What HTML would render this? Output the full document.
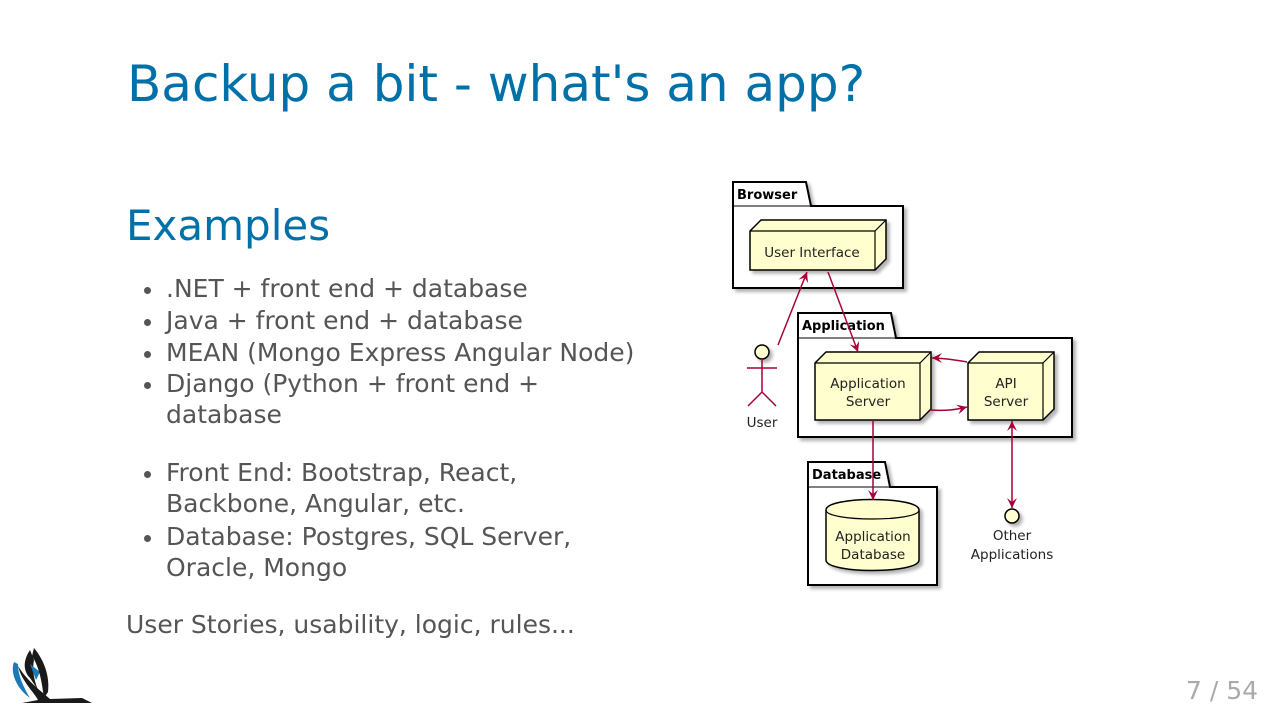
<!DOCTYPE html>
<html><head><meta charset="utf-8"><style>
html,body{margin:0;padding:0;background:#fff;}
body{width:1280px;height:720px;position:relative;overflow:hidden;font-family:"DejaVu Sans","Liberation Sans",sans-serif;}
.t{position:absolute;white-space:nowrap;line-height:1;}
.h1{color:#0071a8;font-size:50px;left:127px;top:59px;}
.h2{color:#0071a8;font-size:42px;left:126px;top:205px;}
.b{color:#555;font-size:25px;left:166px;}
.b:before{content:"";position:absolute;left:-22px;top:11px;width:7px;height:7px;border-radius:50%;background:#555;}
.p{color:#555;font-size:25px;}
</style></head><body>
<div class="t h1">Backup a bit - what's an app?</div>
<div class="t h2">Examples</div>
<div class="t b" style="top:276px">.NET + front end + database</div>
<div class="t b" style="top:308px">Java + front end + database</div>
<div class="t b" style="top:340px">MEAN (Mongo Express Angular Node)</div>
<div class="t b" style="top:371px">Django (Python + front end +</div>
<div class="t p" style="left:166px;top:402px">database</div>
<div class="t b" style="top:460px">Front End: Bootstrap, React,</div>
<div class="t p" style="left:166px;top:491px">Backbone, Angular, etc.</div>
<div class="t b" style="top:524px">Database: Postgres, SQL Server,</div>
<div class="t p" style="left:166px;top:555px">Oracle, Mongo</div>
<div class="t p" style="left:126px;top:612px">User Stories, usability, logic, rules...</div>
<div class="t p" style="left:1186px;top:678px;color:#aaa;">7 / 54</div>

<svg width="1280" height="720" style="position:absolute;left:0;top:0" font-family="DejaVu Sans, sans-serif">
<defs>
<filter id="sh" x="-10%" y="-10%" width="130%" height="130%"><feDropShadow dx="3" dy="3" stdDeviation="1.5" flood-color="#000" flood-opacity="0.3"/></filter>
<marker id="ar" markerWidth="12" markerHeight="10" refX="10" refY="5" orient="auto" markerUnits="userSpaceOnUse"><path d="M0,0 L10,5 L0,10 L4,5 Z" fill="#a80036"/></marker>
<marker id="ars" markerWidth="12" markerHeight="10" refX="0" refY="5" orient="auto" markerUnits="userSpaceOnUse"><path d="M10,0 L0,5 L10,10 L6,5 Z" fill="#a80036"/></marker>
</defs>
<g stroke="#000" stroke-width="2" fill="#fff" filter="url(#sh)">
<path d="M733,206 V182 H806 L811,206 H903 V288 H733 Z"/>
<path d="M798,338 V313 H891 L896,338 H1072 V437 H798 Z"/>
<path d="M808,487 V462 H885 L890,487 H937 V585 H808 Z"/>
</g>
<g stroke="#000" stroke-width="1" fill="none"><path d="M733,206 H811 M798,338 H896 M808,487 H890"/></g>
<g font-weight="bold" font-size="13" fill="#000">
<text x="737" y="199">Browser</text><text x="802" y="330">Application</text><text x="812" y="479">Database</text></g>
<g stroke="#000" stroke-width="1.5" fill="#fefece" filter="url(#sh)">
<path d="M750,231 L761,220 H886 V259 L875,270 H750 Z"/>
<path d="M815,363 L826,352 H931 V409 L920,420 H815 Z"/>
<path d="M968,363 L979,352 H1054 V409 L1043,420 H968 Z"/>
<path d="M826,510 C826,496 919,496 919,510 V560 C919,574 826,574 826,560 Z"/>
<circle cx="762" cy="352" r="7"/>
<circle cx="1012" cy="516" r="7"/>
</g>
<g stroke="#000" stroke-width="1.2" fill="none">
<path d="M750,231 H875 V270 M875,231 L886,220"/>
<path d="M815,363 H920 V420 M920,363 L931,352"/>
<path d="M968,363 H1043 V420 M1043,363 L1054,352"/>
<path d="M826,510 C826,522 919,522 919,510"/>
</g>
<g stroke="#a80036" stroke-width="1.5" fill="none">
<path d="M762,359 V392 M747,368 H777 M762,392 L748,406 M762,392 L776,406"/>
<path d="M778,345 L807,272" marker-end="url(#ar)"/>
<path d="M828,272 L858,352" marker-end="url(#ar)"/>
<path d="M930,410 C945,411 955,410 967,407" marker-end="url(#ar)"/>
<path d="M967,362 C955,360 945,358 932,358" marker-end="url(#ar)"/>
<path d="M873,420 V500" marker-end="url(#ar)"/>
<path d="M1012,421 V508" marker-end="url(#ar)" marker-start="url(#ars)"/>
</g>
<g font-size="13.5" fill="#222" text-anchor="middle">
<text x="812" y="257">User Interface</text>
<text x="868" y="388">Application</text><text x="868" y="406">Server</text>
<text x="1006" y="388">API</text><text x="1006" y="406">Server</text>
<text x="873" y="541">Application</text><text x="873" y="559">Database</text>
<text x="762" y="427">User</text>
<text x="1012" y="540">Other</text><text x="1012" y="559">Applications</text>
</g>
<g>
<path d="M30,650 C22,662 24,672 30,678 L38,690 C34,680 32,670 34,660 Z" fill="#1a1a1a"/>
<path d="M14,662 C10,672 16,688 30,698 C24,688 18,676 18,664 Z" fill="#1a7ab8"/>
<path d="M30,664 L40,672 L36,680 Z" fill="#1a7ab8"/>
<path d="M34,648 C44,660 50,676 48,692 L44,698 C42,684 40,668 32,656 Z" fill="#1a1a1a"/>
<path d="M18,666 C22,682 34,692 38,700 L22,703 L92,703 L82,698 L50,699 C40,690 28,682 18,666 Z" fill="#1a1a1a"/>
</g>
</svg>
</body></html>
